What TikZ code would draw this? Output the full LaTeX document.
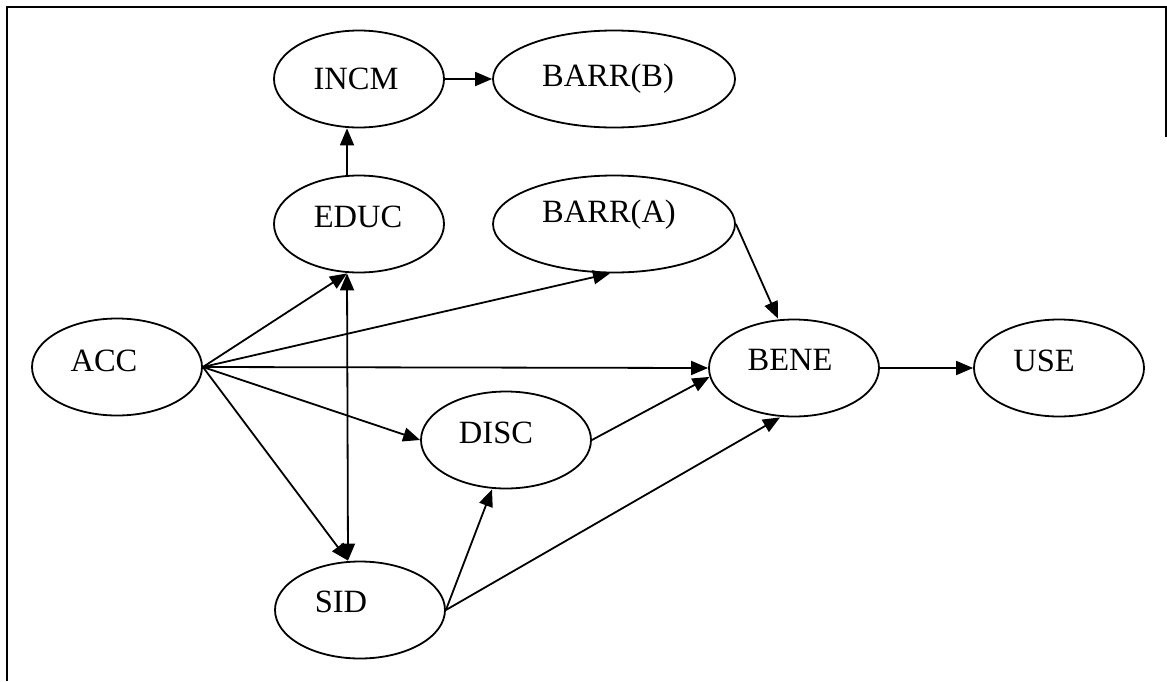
\documentclass[tikz,border=0pt]{standalone}
\usepackage{fontspec}
\setmainfont{Liberation Serif}
\usetikzlibrary{shapes.geometric,arrows.meta}
\newcommand{\lbl}[3]{\raisebox{#2pt}{\makebox[0pt]{\hspace{#1pt}\hspace{#1pt}#3}}}
\tikzset{
  ell/.style={draw, ellipse, line width=1.8pt, minimum width=170pt, minimum height=97pt,
    inner sep=0pt, text height=0pt, text depth=0pt, font=\fontsize{32.5}{38}\selectfont},
  wide/.style={minimum width=242pt},
  conn/.style={line width=1.8pt, -{Triangle[length=17pt,width=14pt]}},
  frame/.style={line width=1.6pt}
}
\begin{document}
\begin{tikzpicture}[x=1pt,y=-1pt]
\useasboundingbox (0,0) rectangle (1167,681);
\coordinate (tl) at (7,7);
\coordinate (tr) at (1166,7);
\coordinate (bl) at (7,681);
\coordinate (rb) at (1166,137);
\draw[frame] (bl) -- (tl) -- (tr) -- (rb);

\node[ell] (incm) at (359,79) {\lbl{-3}{-10.5}{INCM}};
\node[ell,wide] (barrb) at (614,79) {\lbl{-6}{-7.5}{BARR(B)}};
\node[ell] (educ) at (359,224) {\lbl{-1}{-3.5}{EDUC}};
\node[ell,wide] (barra) at (614,224) {\lbl{-5}{1.5}{BARR(A)}};
\node[ell] (acc) at (117,367) {\lbl{-13}{-4}{ACC}};
\node[ell] (bene) at (794,368) {\lbl{-4}{-2.5}{BENE}};
\node[ell] (use) at (1059,368) {\lbl{-15}{-3.5}{USE}};
\node[ell] (disc) at (506,440) {\lbl{-10}{-3.5}{DISC}};
\node[ell] (sid) at (360,610) {\lbl{-19}{-2.5}{SID}};

\draw[conn] ([xshift=-12pt]educ.north) -- ([xshift=-12pt]incm.south);
\draw[conn] (incm.east) -- (barrb.west);
\draw[conn] (acc.east) -- ([xshift=-12pt]educ.south);
\draw[conn] (acc.east) -- ([xshift=-4pt]barra.south);
\draw[conn] (acc.east) -- (bene.west);
\draw[conn] (acc.east) -- (disc.west);
\draw[conn] (acc.east) -- ([xshift=-12pt]sid.north);
\draw[conn,{Triangle[length=17pt,width=14pt]}-{Triangle[length=17pt,width=14pt]}] ([xshift=-12pt]educ.south) -- ([xshift=-12pt]sid.north);
\draw[conn] (sid.east) -- ([xshift=-14pt]disc.south);
\draw[conn] (sid.east) -- ([xshift=-14pt]bene.south);
\draw[conn] (disc.east) -- (bene.186);
\draw[conn] (barra.east) -- ([xshift=-16pt]bene.north);
\draw[conn] (bene.east) -- (use.west);
\end{tikzpicture}
\end{document}
